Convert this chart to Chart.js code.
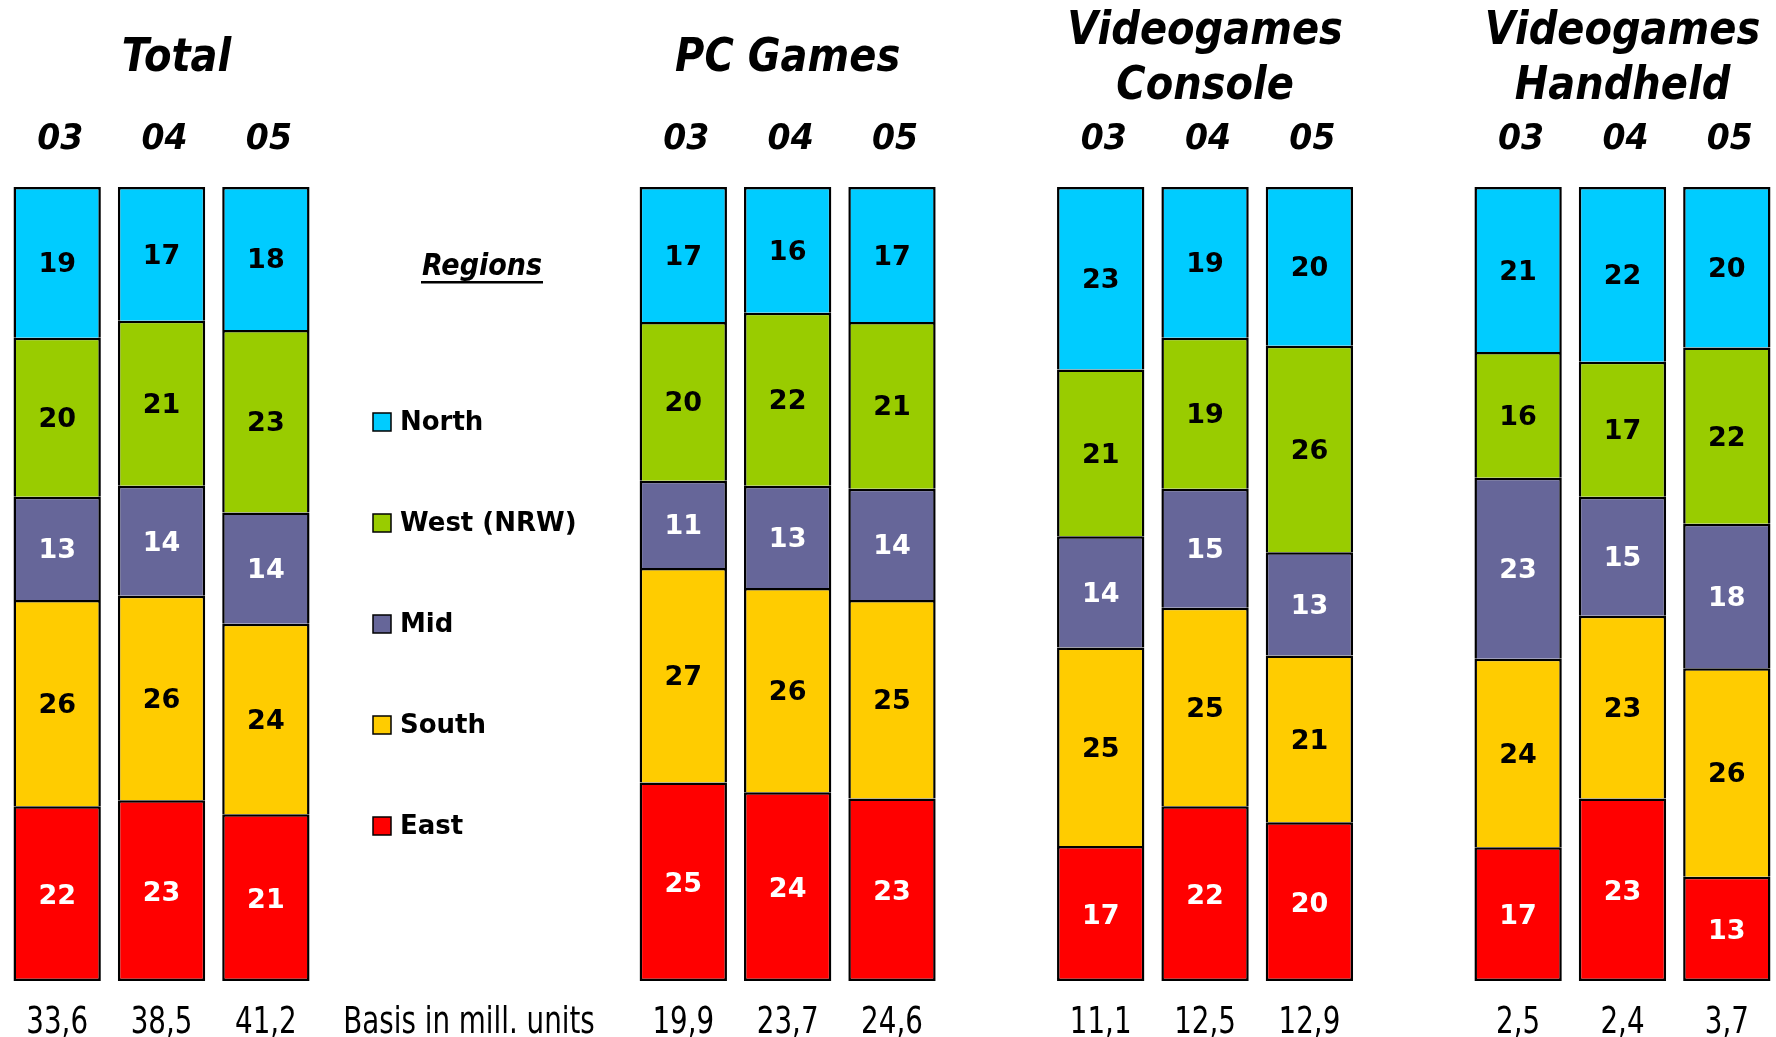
<!DOCTYPE html>
<html lang="en">
<head>
    <meta charset="UTF-8" />
    <title>Regions - Games</title>
    <script src="https://cdn.jsdelivr.net/npm/chart.js"></script>
    <style>
        body {
            margin: 0;
            background: #fff;
            overflow: hidden;
        }

        .wrap {
            position: relative;
            width: 1779px;
            height: 1037px;
        }
    </style>
</head>
<body>
    <div class="wrap">
        <canvas id="chart"></canvas>
    </div>

    <script>
        // groups of three years, values are % shares per region
        const groups = [['Total'], ['PC Games'], ['Videogames', 'Console'], ['Videogames', 'Handheld']];
        const years = ['03', '04', '05'];
        const regions = ['North', 'West (NRW)', 'Mid', 'South', 'East'];

        const north = [19, 17, 18, 17, 16, 17, 23, 19, 20, 21, 22, 20];
        const west = [20, 21, 23, 20, 22, 21, 21, 19, 26, 16, 17, 22];
        const mid = [13, 14, 14, 11, 13, 14, 14, 15, 13, 23, 15, 18];
        const south = [26, 26, 24, 27, 26, 25, 25, 25, 21, 24, 23, 26];
        const east = [22, 23, 21, 25, 24, 23, 17, 22, 20, 17, 23, 13];
        const basis = ['33,6', '38,5', '41,2', '19,9', '23,7', '24,6', '11,1', '12,5', '12,9', '2,5', '2,4', '3,7'];

        // which column of the x axis each bar goes into (gaps hold legend / spacing)
        const slots = [0, 1, 2, 6, 7, 8, 10, 11, 12, 14, 15, 16];
        const slotCount = 17;

        const colors = {
            north: '#00CCFF',
            west: '#99CC00',
            mid: '#666699',
            south: '#FFCC00',
            east: '#FF0000'
        };

        const labels = [];
        for (let i = 0; i < slotCount; i++) labels.push('s' + i);

        function spread(values) {
            const out = new Array(slotCount).fill(null);
            values.forEach((v, i) => {
                const sum = north[i] + west[i] + mid[i] + south[i] + east[i];
                out[slots[i]] = v / sum * 100;
            });
            return out;
        }

        function makeSet(name, values, color, textColor, bottom) {
            return {
                label: name,
                data: spread(values),
                raw: values,
                textColor: textColor,
                backgroundColor: color,
                borderColor: '#000',
                // segments share the line with the one below, so no bottom edge except the lowest
                borderWidth: { top: 2.5, left: 2.5, right: 2.5, bottom: bottom ? 2.5 : 0 },
                borderSkipped: false,
                barPercentage: 0.837,
                categoryPercentage: 1
            };
        }

        const datasets = [
            makeSet('East', east, colors.east, '#fff', true),
            makeSet('South', south, colors.south, '#000'),
            makeSet('Mid', mid, colors.mid, '#fff'),
            makeSet('West (NRW)', west, colors.west, '#000'),
            makeSet('North', north, colors.north, '#000')
        ];

        function txt(ctx, s, x, y, font, color, sx, baseline) {
            ctx.save();
            ctx.font = font;
            ctx.fillStyle = color;
            ctx.textAlign = 'center';
            ctx.textBaseline = baseline || 'middle';
            ctx.translate(x, y);
            ctx.scale(sx, 1);
            ctx.fillText(s, 0, 0);
            ctx.restore();
        }

        const decor = {
            id: 'decor',
            afterDatasetsDraw(chart) {
                const ctx = chart.ctx;
                const xs = chart.scales.x;

                // numbers inside the segments
                chart.data.datasets.forEach((ds, di) => {
                    const meta = chart.getDatasetMeta(di);
                    slots.forEach((s, i) => {
                        const el = meta.data[s];
                        if (!el) return;
                        const p = el.getProps(['x', 'y', 'base'], true);
                        txt(ctx, String(ds.raw[i]), p.x, (p.y + p.base) / 2 + 3,
                            'bold 27px "DejaVu Sans"', ds.textColor, 1);
                    });
                });

                // group titles and year labels
                const titleFont = 'italic bold 46px "DejaVu Sans"';
                groups.forEach((g, gi) => {
                    const a = xs.getPixelForValue(slots[gi * 3]);
                    const b = xs.getPixelForValue(slots[gi * 3 + 2]);
                    let cx = (a + b) / 2;
                    if (gi === 0) cx += 15;
                    if (g.length === 1) {
                        txt(ctx, g[0], cx, 59, titleFont, '#000', 0.87);
                    } else {
                        txt(ctx, g[0], cx, 32, titleFont, '#000', 0.87);
                        txt(ctx, g[1], cx, 87, titleFont, '#000', 0.87);
                    }
                    for (let k = 0; k < 3; k++) {
                        const x = xs.getPixelForValue(slots[gi * 3 + k]);
                        txt(ctx, years[k], x + 3, 140, 'italic bold 36px "DejaVu Sans"', '#000', 0.92);
                    }
                });

                // basis values below the bars
                slots.forEach((s, i) => {
                    txt(ctx, basis[i], xs.getPixelForValue(s), 1033, '38px "DejaVu Sans"', '#000', 0.73, 'alphabetic');
                });
                txt(ctx, 'Basis in mill. units', 469, 1033, '38px "DejaVu Sans"', '#000', 0.73, 'alphabetic');

                // legend
                txt(ctx, 'Regions', 482, 267, 'italic bold 30px "DejaVu Sans"', '#000', 0.9);
                ctx.fillStyle = '#000';
                ctx.fillRect(421, 281, 122, 2.5);

                const legendColors = [colors.north, colors.west, colors.mid, colors.south, colors.east];
                regions.forEach((r, i) => {
                    const y = 422 + i * 101;
                    ctx.fillStyle = legendColors[i];
                    ctx.fillRect(373, y - 9, 18, 18);
                    ctx.strokeStyle = '#000';
                    ctx.lineWidth = 1.5;
                    ctx.strokeRect(373, y - 9, 18, 18);
                    ctx.save();
                    ctx.font = 'bold 26px "DejaVu Sans"';
                    ctx.fillStyle = '#000';
                    ctx.textAlign = 'left';
                    ctx.textBaseline = 'middle';
                    ctx.fillText(r, 400, y + 1);
                    ctx.restore();
                });
            }
        };

        new Chart(document.getElementById('chart'), {
            type: 'bar',
            data: { labels: labels, datasets: datasets },
            options: {
                responsive: true,
                maintainAspectRatio: false,
                animation: false,
                layout: { padding: { top: 187, bottom: 56, left: 5, right: 0 } },
                plugins: {
                    legend: { display: false },
                    tooltip: { enabled: false }
                },
                scales: {
                    x: { display: false, stacked: true },
                    y: { display: false, stacked: true, min: 0, max: 100 }
                }
            },
            plugins: [decor]
        });
    </script>
</body>
</html>
